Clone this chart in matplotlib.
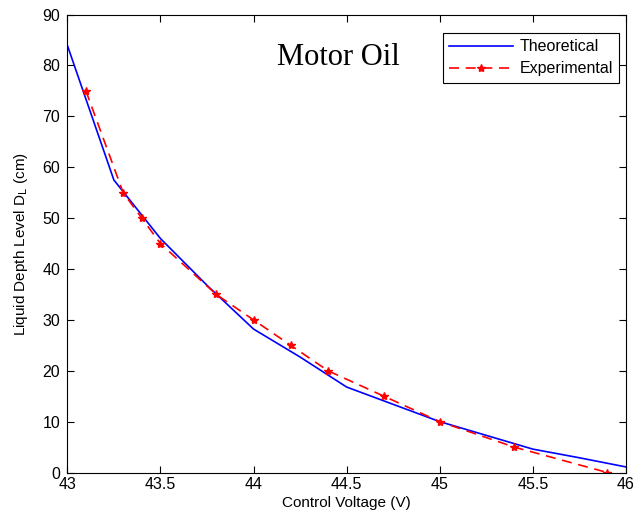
import matplotlib
matplotlib.use("Agg")
import matplotlib.pyplot as plt

# theoretical curve
theo_v = [43.0, 43.25, 43.5, 43.75, 44.0, 44.25, 44.5, 44.75, 45.0, 45.25, 45.5, 45.75, 46.0]
theo_d = [84.0, 57.5, 46.0, 36.8, 28.2, 22.7, 16.8, 13.4, 10.0, 7.3, 4.6, 2.9, 1.1]

# experimental measurements
exp_v = [43.1, 43.3, 43.4, 43.5, 43.8, 44.0, 44.2, 44.4, 44.7, 45.0, 45.4, 45.9]
exp_d = [75, 55, 50, 45, 35, 30, 25, 20, 15, 10, 5, 0]

plt.rcParams["font.family"] = ["Liberation Sans", "DejaVu Sans"]

fig = plt.figure(figsize=(6.33, 5.21), dpi=100)
ax = fig.add_axes([0.1063, 0.093, 0.8827, 0.879])

ax.plot(theo_v, theo_d, color="blue", lw=1.2, label="Theoretical")
ax.plot(exp_v, exp_d, color="red", lw=1.2, ls=(0, (6, 4)), marker="*",
        markersize=6, label="Experimental")

ax.set_xlim(43, 46)
ax.set_ylim(0, 90)
ax.set_xticks([43, 43.5, 44, 44.5, 45, 45.5, 46])
ax.set_xticklabels(["43", "43.5", "44", "44.5", "45", "45.5", "46"])
ax.set_yticks(range(0, 91, 10))
ax.tick_params(direction="in", top=True, right=True, labelsize=11.5, length=5)
ax.tick_params(axis="x", pad=3)
ax.tick_params(axis="y", pad=5)

ax.set_xlabel("Control Voltage (V)", fontsize=11, labelpad=3)
ax.set_ylabel("Liquid Depth Level D$_\\mathrm{L}$ (cm)", fontsize=11, labelpad=9)

ax.text(0.486, 0.907, "Motor Oil", transform=ax.transAxes, fontsize=22,
        family="Liberation Serif", ha="center", va="center")

leg = ax.legend(loc="upper right", bbox_to_anchor=(0.9875, 0.96), fontsize=11.5,
                fancybox=False, framealpha=1, edgecolor="black",
                handlelength=4.0, borderpad=0.4, labelspacing=0.45,
                handletextpad=0.4, borderaxespad=0)
leg.get_frame().set_linewidth(0.8)

fig.savefig("out.png", dpi=100)
